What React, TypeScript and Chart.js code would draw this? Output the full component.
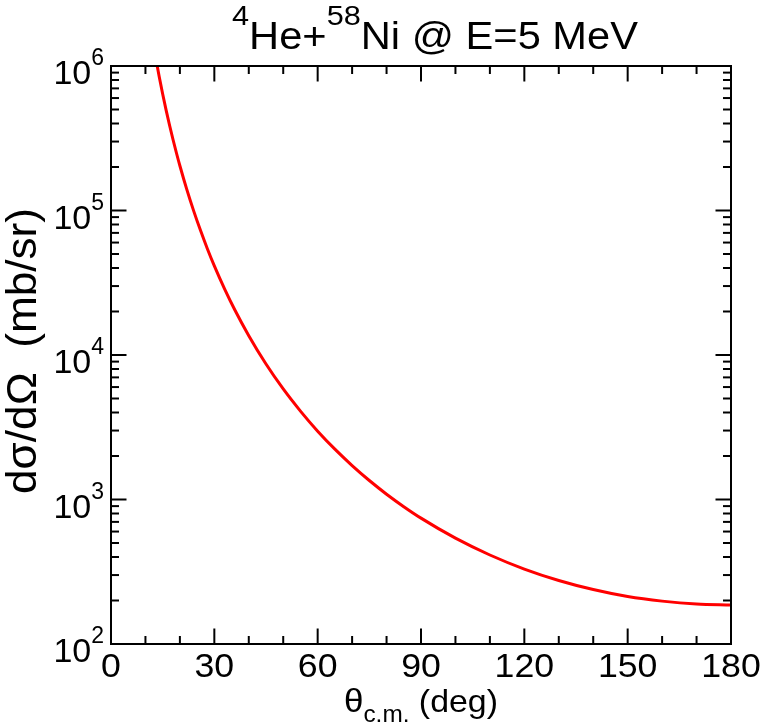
import React, { useEffect, useRef } from "react";
import { Chart, registerables } from "chart.js";

Chart.register(...registerables);

// ---- data ----
const thetaDeg = [12, 13, 14, 15, 16, 17, 18, 19, 20, 22, 24, 26, 28, 30, 33, 36, 40, 45, 50, 55, 60, 65, 70, 75, 80, 85, 90, 100, 110, 120, 130, 140, 150, 160, 170, 180];
const crossSection = [1.556e6, 1.131e6, 8.42e5, 6.4e5, 4.95e5, 3.89e5, 3.1e5, 2.5e5, 2.04e5, 1.4e5, 9.94e4, 7.26e4, 5.42e4, 4.14e4, 2.86e4, 2.04e4, 1.36e4, 8660, 5820, 4090, 2970, 2230, 1717, 1353, 1088, 892, 743, 540, 413, 330, 275, 238, 213, 198, 189, 186];

const xMajorTicks = [0, 30, 60, 90, 120, 150, 180];
const xMinorTicks = [10, 20, 40, 50, 70, 80, 100, 110, 130, 140, 160, 170];
const yDecadeExponents = [2, 3, 4, 5, 6];
const yMinorMultipliers = [2, 3, 4, 5, 6, 7, 8, 9];

const X_MIN = 0;
const X_MAX = 180;
const Y_MIN = 1e2;
const Y_MAX = 1e6;

const FONT = '"Liberation Sans", Arial, Helvetica, sans-serif';

type Seg = { t: string; size: number; dy?: number };

// draws a run of text segments (super/subscripts) starting at x; optional fit width or scale
function drawRich(
  ctx: CanvasRenderingContext2D,
  segs: Seg[],
  x: number,
  y: number,
  opts: { width?: number; sx?: number; align?: "left" | "right" | "center"; rotate?: number } = {}
) {
  ctx.save();
  const widths = segs.map((s) => {
    ctx.font = `${s.size}px ${FONT}`;
    return ctx.measureText(s.t).width;
  });
  const total = widths.reduce((a, b) => a + b, 0);
  const sx = opts.width ? opts.width / total : opts.sx ?? 1;
  ctx.translate(x, y);
  if (opts.rotate) ctx.rotate(opts.rotate);
  ctx.scale(sx, 1);
  let cx = 0;
  if (opts.align === "right") cx = -total;
  else if (opts.align === "center") cx = -total / 2;
  ctx.textAlign = "left";
  ctx.textBaseline = "alphabetic";
  ctx.fillStyle = "#000";
  segs.forEach((s, i) => {
    ctx.font = `${s.size}px ${FONT}`;
    ctx.fillText(s.t, cx, s.dy ?? 0);
    cx += widths[i];
  });
  ctx.restore();
}

const framePlugin = {
  id: "xmgraceFrame",
  afterDraw(chart: any) {
    const ctx: CanvasRenderingContext2D = chart.ctx;
    const { left, right, top, bottom } = chart.chartArea;
    const xs = chart.scales.x;
    const ys = chart.scales.y;
    const MAJOR = 15.5;
    const MINOR = 8;

    ctx.save();
    ctx.strokeStyle = "#000";
    ctx.lineWidth = 2;
    ctx.lineCap = "butt";

    const line = (x1: number, y1: number, x2: number, y2: number) => {
      ctx.beginPath();
      ctx.moveTo(x1, y1);
      ctx.lineTo(x2, y2);
      ctx.stroke();
    };

    xMajorTicks.forEach((v) => {
      const px = xs.getPixelForValue(v);
      line(px, bottom, px, bottom - MAJOR);
      line(px, top, px, top + MAJOR);
    });
    xMinorTicks.forEach((v) => {
      const px = xs.getPixelForValue(v);
      line(px, bottom, px, bottom - MINOR);
      line(px, top, px, top + MINOR);
    });

    yDecadeExponents.forEach((e) => {
      const py = ys.getPixelForValue(Math.pow(10, e));
      line(left, py, left + MAJOR, py);
      line(right, py, right - MAJOR, py);
      if (e < yDecadeExponents[yDecadeExponents.length - 1]) {
        yMinorMultipliers.forEach((k) => {
          const pm = ys.getPixelForValue(k * Math.pow(10, e));
          line(left, pm, left + MINOR, pm);
          line(right, pm, right - MINOR, pm);
        });
      }
    });

    ctx.strokeRect(left, top, right - left, bottom - top);
    ctx.restore();

    // x tick labels
    xMajorTicks.forEach((v) => {
      const px = xs.getPixelForValue(v);
      drawRich(ctx, [{ t: String(v), size: 34 }], px, bottom + 33, { align: "center", sx: 1.05 });
    });

    // y tick labels 10^n
    yDecadeExponents.forEach((e) => {
      const py = ys.getPixelForValue(Math.pow(10, e));
      drawRich(
        ctx,
        [
          { t: "10", size: 34 },
          { t: String(e), size: 23, dy: -19 },
        ],
        left - 7,
        py + 18,
        { align: "right", sx: 1.0 }
      );
    });

    // title
    drawRich(
      ctx,
      [
        { t: "4", size: 28, dy: -24 },
        { t: "He+", size: 38 },
        { t: "58", size: 28, dy: -24 },
        { t: "Ni @ E=5 MeV", size: 38 },
      ],
      232,
      49,
      { width: 406 }
    );

    // x axis label
    drawRich(
      ctx,
      [
        { t: "θ", size: 33 },
        { t: "c.m.", size: 23, dy: 10 },
        { t: " (deg)", size: 32 },
      ],
      344,
      712,
      { width: 154 }
    );

    // y axis label (rotated)
    drawRich(
      ctx,
      [{ t: "dσ/dΩ  (mb/sr)", size: 43 }],
      36,
      494,
      { rotate: -Math.PI / 2, width: 286 }
    );
  },
};

export default function App() {
  const canvasRef = useRef<HTMLCanvasElement | null>(null);

  useEffect(() => {
    const canvas = canvasRef.current;
    if (!canvas) return;
    const points = thetaDeg.map((t, i) => ({ x: t, y: crossSection[i] }));
    const chart = new Chart(canvas, {
      type: "line",
      data: {
        datasets: [
          {
            data: points,
            borderColor: "#ff0000",
            borderWidth: 3,
            pointRadius: 0,
            fill: false,
            cubicInterpolationMode: "monotone",
            clip: 0,
          } as any,
        ],
      },
      options: {
        animation: false,
        responsive: false,
        devicePixelRatio: 1,
        layout: { padding: { left: 111, right: 30, top: 66, bottom: 84 } },
        plugins: { legend: { display: false }, tooltip: { enabled: false }, title: { display: false } },
        scales: {
          x: { type: "linear", min: X_MIN, max: X_MAX, display: false },
          y: { type: "logarithmic", min: Y_MIN, max: Y_MAX, display: false },
        },
      },
      plugins: [framePlugin],
    });
    return () => chart.destroy();
  }, []);

  return (
    <div style={{ position: "absolute", left: 0, top: 0, width: 761, height: 728, background: "#fff" }}>
      <canvas ref={canvasRef} width={761} height={728} style={{ display: "block" }} />
    </div>
  );
}
